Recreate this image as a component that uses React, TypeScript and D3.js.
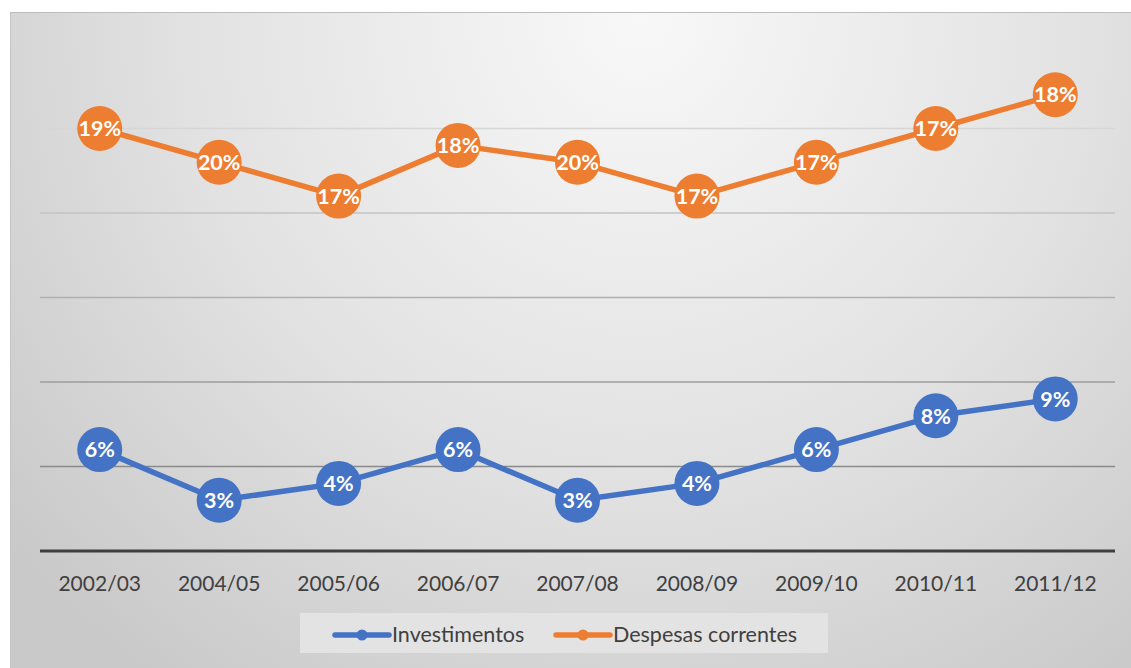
import React from "react";
import * as d3 from "d3";

const categories = ["2002/03", "2004/05", "2005/06", "2006/07", "2007/08", "2008/09", "2009/10", "2010/11", "2011/12"];
const investimentos = [6, 3, 4, 6, 3, 4, 6, 8, 9];
const despesasCorrentes = [19, 20, 17, 18, 20, 17, 17, 17, 18];
const seriesNames = ["Investimentos", "Despesas correntes"];
const seriesColors = ["#4472C4", "#ED7D31"];
const yTicks = [5, 10, 15, 20, 25];

const W = 1131;
const H = 668;
const plot = { left: 40, right: 1115, top: 44, bottom: 551 };

export default function App() {
  const x = d3.scaleBand<string>().domain(categories).range([plot.left, plot.right]);
  const y = d3.scaleLinear().domain([0, 30]).range([plot.bottom, plot.top]);
  const cx = (c: string) => (x(c) ?? 0) + x.bandwidth() / 2;

  // stacked line chart
  const table = categories.map((c, i) => ({ cat: c, inv: investimentos[i], desp: despesasCorrentes[i] }));
  const stacked = d3.stack<any>().keys(["inv", "desp"])(table);

  const line = d3
    .line<any>()
    .x((d) => cx(d.data.cat))
    .y((d) => y(d[1]));

  const gridColor = d3.scaleLinear<string>().domain([25, 5]).range(["#d6d6d6", "#8a8a8a"]);

  const font = "Lato, 'Open Sans', sans-serif";
  const legendItems = [
    { name: seriesNames[0], color: seriesColors[0], x: 335, tx: 392 },
    { name: seriesNames[1], color: seriesColors[1], x: 556, tx: 613 },
  ];

  return (
    <svg width={W} height={H} style={{ position: "absolute", left: 0, top: 0, background: "#fff" }}>
      <defs>
        <radialGradient id="bg" gradientUnits="userSpaceOnUse" cx={640} cy={20} r={820}>
          <stop offset="0" stopColor="#f8f8f8" />
          <stop offset="0.55" stopColor="#e2e2e2" />
          <stop offset="1" stopColor="#c9c9c9" />
        </radialGradient>
      </defs>
      <rect x={10} y={12} width={W - 10} height={H - 12} fill="url(#bg)" />
      <line x1={10} x2={W} y1={12.5} y2={12.5} stroke="#bdbdbd" strokeWidth={1.2} />
      <line x1={10.5} x2={10.5} y1={12} y2={H} stroke="#c4c4c4" strokeWidth={1} />

      {yTicks.map((t) => (
        <line key={t} x1={plot.left} x2={plot.right} y1={y(t)} y2={y(t)} stroke={gridColor(t)} strokeWidth={1.3} />
      ))}
      <line x1={plot.left} x2={plot.right} y1={y(0)} y2={y(0)} stroke="#3f3f3f" strokeWidth={3} />

      {categories.map((c) => (
        <text key={c} x={cx(c)} y={591} textAnchor="middle" fontFamily={font} fontSize={21} fill="#404040">
          {c}
        </text>
      ))}

      {stacked.map((s, si) => (
        <g key={s.key}>
          <path d={line(s as any) ?? ""} fill="none" stroke={seriesColors[si]} strokeWidth={5.5} strokeLinejoin="round" />
          {s.map((d: any, i: number) => (
            <g key={i}>
              <circle cx={cx(d.data.cat)} cy={y(d[1])} r={22.5} fill={seriesColors[si]} />
              <text
                x={cx(d.data.cat)}
                y={y(d[1])}
                dy="0.36em"
                textAnchor="middle"
                fontFamily={font}
                fontWeight="bold"
                fontSize={21.5}
                fill="#ffffff"
              >
                {(si === 0 ? investimentos[i] : despesasCorrentes[i]) + "%"}
              </text>
            </g>
          ))}
        </g>
      ))}

      <rect x={300} y={613} width={528} height={40} fill="#e3e3e3" />
      {legendItems.map((l) => (
        <g key={l.name}>
          <line x1={l.x} x2={l.x + 54} y1={635} y2={635} stroke={l.color} strokeWidth={5.5} strokeLinecap="round" />
          <circle cx={l.x + 27} cy={635} r={5.5} fill={l.color} />
          <text x={l.tx} y={642} fontFamily={font} fontSize={21.5} fill="#404040">
            {l.name}
          </text>
        </g>
      ))}
    </svg>
  );
}
